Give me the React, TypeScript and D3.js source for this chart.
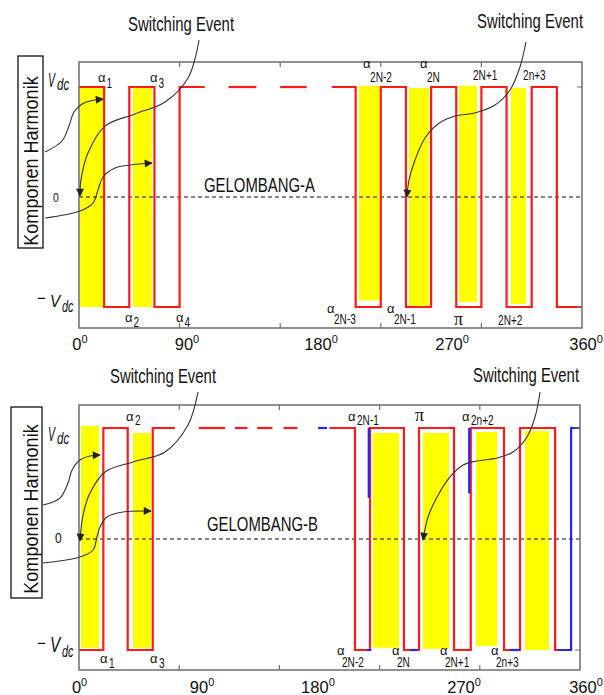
import React from 'react';
import * as d3 from 'd3';

// ---------- data (angles in degrees, levels in units of Vdc) ----------
const degreeTicks = [0, 90, 180, 270, 360];
const degreeTickAtA = [0.7, 77.3, 173.2, 267, 362.9];
const degreeTickAtB = [0.4, 88.4, 171.7, 276.7, 364.3];
const frameTicks = [72, 144, 216, 288];

// GELOMBANG-A: switching angles, starts at +Vdc
const edgesA = [18, 36, 54, 72, 198, 216, 234, 252, 270, 288, 306, 324, 342];
const startLevelA = 1;
const endA = 360;
const dashesA = [[72, 90], [107, 127], [144, 163], [181, 198]];
// yellow bars: [from, to, top level, bottom level]
const barsA = [
  [0.7, 17.2, 0.99, -1],
  [38.6, 52.2, 1, -1],
  [200.4, 215.4, 1.01, -0.94],
  [236.2, 250.5, 0.99, -0.99],
  [272, 284.9, 1.01, -0.955],
  [309.2, 319.9, 0.99, -0.973],
];
const labelsA = [
  { sub: '1', at: 13.6, side: 'top', kind: 'inline' },
  { sub: '3', at: 50.8, side: 'top', kind: 'inline' },
  { sub: '2N-2', at: 203.3, side: 'top', kind: 'stacked' },
  { sub: '2N', at: 244, side: 'top', kind: 'stacked' },
  { sub: '2N+1', at: 282, side: 'top', kind: 'bare' },
  { sub: '2n+3', at: 317.8, side: 'top', kind: 'bare' },
  { sub: '2', at: 32.9, side: 'bottom', kind: 'inline' },
  { sub: '4', at: 69.4, side: 'bottom', kind: 'inline' },
  { sub: '2N-3', at: 177.5, side: 'bottom', kind: 'stacked' },
  { sub: '2N-1', at: 220.4, side: 'bottom', kind: 'stacked' },
  { sub: 'π', at: 268.4, side: 'bottom', kind: 'pi' },
  { sub: '2N+2', at: 299.9, side: 'bottom', kind: 'bare' },
];
const curvesA = [
  [[85.9, 1.427], [78, 1.082], [61.6, 0.864], [40.1, 0.755], [18.6, 0.645], [6.4, 0.4], [1.4, 0.155], [0.7, 0.009]],
  [[-24.3, 0.409], [-12.2, 0.509], [-7.2, 0.645], [-3.6, 0.773], [3.6, 0.855], [17.2, 0.891]],
  [[-24.3, -0.191], [0.7, -0.127], [10, -0.055], [13.6, 0.064], [17.2, 0.182], [25.8, 0.264], [36.5, 0.291], [52.2, 0.309]],
  [[319.9, 1.409], [315.6, 1.182], [308.5, 0.973], [297.7, 0.836], [283.4, 0.764], [269.1, 0.736], [256.9, 0.664], [247.6, 0.536], [240.5, 0.336], [236.2, 0.155], [234.7, 0]],
];

// GELOMBANG-B: starts at -Vdc
const edgesB = [17.5, 35, 53, 198.3, 209.1, 233.5, 244.3, 269.5, 281.5, 305.4, 316.9, 342.1, 353.6];
const startLevelB = -1;
const endB = 353.6;
const dashesB = [[53, 69], [86, 105], [112, 121], [128, 139], [147, 157], [180, 198.3]];
const barsB = [
  [1.4, 14.4, 1.02, -0.98],
  [38.8, 51.7, 0.955, -0.98],
  [211.3, 230, 0.955, -0.98],
  [247.2, 265.9, 0.955, -0.99],
  [285.3, 300.4, 0.964, -0.964],
  [320.5, 337.7, 0.973, -1],
];
const blueB = [
  [[171.7, 1], [178.2, 1]],
  [[208.2, 1], [208.2, 0.37]],
  [[207, -1], [210, -1]],
  [[237.9, -1], [243.6, -1]],
  [[280.4, 1], [280.4, 0.41]],
  [[309.7, -1], [316.9, -1]],
  [[344.2, -1], [353.6, -1], [353.6, 1], [360, 1]],
];
const labelsB = [
  { sub: '2', at: 33.8, side: 'top', kind: 'inline' },
  { sub: '2N-1', at: 193.3, side: 'top', kind: 'inline' },
  { sub: 'π', at: 241.4, side: 'top', kind: 'pi' },
  { sub: '2n+2', at: 275.2, side: 'top', kind: 'inline' },
  { sub: '1', at: 15.1, side: 'bottom', kind: 'inline' },
  { sub: '3', at: 51, side: 'bottom', kind: 'inline' },
  { sub: '2N-2', at: 185.4, side: 'bottom', kind: 'stacked' },
  { sub: '2N', at: 224.9, side: 'bottom', kind: 'stacked' },
  { sub: '2N+1', at: 259.4, side: 'bottom', kind: 'stacked' },
  { sub: '2n+3', at: 296, side: 'bottom', kind: 'stacked' },
];
const curvesB = [
  [[85.5, 1.324], [78.3, 1.027], [61.8, 0.784], [38.8, 0.694], [18.7, 0.604], [7.9, 0.414], [2.9, 0.216], [0.7, -0.018]],
  [[-25.9, 0.306], [-13.7, 0.369], [-7.9, 0.505], [-5, 0.622], [0.7, 0.712], [7.9, 0.748], [15.1, 0.757]],
  [[-25.9, -0.216], [0.7, -0.162], [10.1, -0.099], [12.9, 0.018], [15.1, 0.108], [20.1, 0.198], [31.6, 0.243], [51.7, 0.252]],
  [[331.3, 1.324], [327.7, 1.099], [321.9, 0.919], [311.9, 0.784], [300.4, 0.73], [286, 0.703], [276, 0.667], [266.6, 0.559], [257.3, 0.378], [250.8, 0.198], [247.2, -0.009]],
];

// ---------- drawing ----------
const FONT = "'Liberation Sans', Arial, Helvetica, sans-serif";
const RED = '#ff1a1a';
const BLUE = '#2424ff';

// step waveform restricted to [from, to]
function stepPoints(edges: number[], start: number, from: number, to: number) {
  let level = start;
  edges.forEach(e => { if (e <= from) level = -level; });
  const pts: [number, number][] = [[from, level]];
  edges.forEach(e => {
    if (e > from && e < to) {
      pts.push([e, level]);
      level = -level;
      pts.push([e, level]);
    }
  });
  pts.push([to, level]);
  return pts;
}

const CText = ({ x, y, sx = 1, size, anchor = 'start', italic = false, family = FONT, children }: any) => (
  <text
    transform={`translate(${x},${y}) scale(${sx},1)`}
    fontSize={size}
    fontFamily={family}
    fontStyle={italic ? 'italic' : 'normal'}
    textAnchor={anchor}
    fill="#111"
  >
    {children}
  </text>
);

const Panel = ({ p }: any) => {
  const x = d3.scaleLinear().domain([0, 360]).range([p.left, p.right]);
  const y = d3.scaleLinear().domain([-1, 1]).range([p.yLo, p.yHi]);
  const line = d3.line<number[]>().x(d => x(d[0])).y(d => y(d[1]));
  const curve = d3.line<number[]>().x(d => x(d[0])).y(d => y(d[1])).curve(d3.curveCatmullRom.alpha(0.5));

  const d = p.dashes;
  const pieces = [[0, d[0][1]], ...d.slice(1, -1), [d[d.length - 1][0], p.end]];
  const L = p.layout;

  return (
    <g>
      {p.bars.map((b: number[], i: number) => (
        <rect key={'b' + i} x={x(b[0])} y={y(b[2])} width={x(b[1]) - x(b[0])} height={y(b[3]) - y(b[2])} fill="#ffff00" />
      ))}
      <line x1={x(0)} x2={x(360)} y1={y(0)} y2={y(0)} stroke="#111" strokeWidth={1} strokeDasharray="4 3" />
      {pieces.map((pc: number[], i: number) => (
        <path key={'w' + i} d={line(stepPoints(p.edges, p.start, pc[0], pc[1])) || ''} fill="none" stroke={RED} strokeWidth={2.2} />
      ))}
      {p.blue.map((pts: number[][], i: number) => (
        <path key={'bl' + i} d={line(pts) || ''} fill="none" stroke={BLUE} strokeWidth={2.2} />
      ))}

      {/* frame */}
      <rect x={p.left} y={p.top} width={p.right - p.left} height={p.bottom - p.top} fill="none" stroke="#6e6e6e" strokeWidth={1.5} />
      {frameTicks.map(t => (
        <g key={'t' + t} stroke="#6e6e6e" strokeWidth={1.2}>
          <line x1={x(t)} x2={x(t)} y1={p.top} y2={p.top + 5} />
          <line x1={x(t)} x2={x(t)} y1={p.bottom} y2={p.bottom - 5} />
        </g>
      ))}
      <line x1={p.right - 5} x2={p.right} y1={y(1)} y2={y(1)} stroke="#6e6e6e" />
      <line x1={p.right - 5} x2={p.right} y1={y(-1)} y2={y(-1)} stroke="#6e6e6e" />

      {/* switching event arrows */}
      {p.curves.map((c: number[][], i: number) => (
        <path key={'c' + i} d={curve(c) || ''} fill="none" stroke="#333" strokeWidth={1.1} markerEnd="url(#arrowhead)" />
      ))}

      {/* alpha labels */}
      {p.labels.map((l: any, i: number) => {
        const base = l.side === 'top' ? y(1) : y(-1);
        const o = L.off[l.side];
        const x0 = x(l.at);
        if (l.kind === 'pi') {
          return <CText key={'l' + i} x={x0} y={base + o.pi} size={18} family="'Liberation Serif', 'Times New Roman', serif">π</CText>;
        }
        if (l.kind === 'bare') {
          return <CText key={'l' + i} x={x0} y={base + o.bare} size={14} sx={0.72}>{l.sub}</CText>;
        }
        const pair = l.kind === 'inline' ? o.inline : o.stacked;
        const dx = l.kind === 'inline' ? L.inlineDx : L.stackDx;
        return (
          <g key={'l' + i}>
            <CText x={x0} y={base + pair[0]} size={13}>α</CText>
            <CText x={x0 + dx} y={base + pair[1]} size={14} sx={0.72}>{l.sub}</CText>
          </g>
        );
      })}

      {/* degree labels */}
      {degreeTicks.map((t, i) => (
        <text key={'dg' + t} x={x(p.degAt[i])} y={L.tickY} fontSize={16.5} fontFamily={FONT} textAnchor="middle" fill="#111">
          {t}
          <tspan fontSize={11} dy={-7}>0</tspan>
        </text>
      ))}

      {/* texts */}
      <CText x={L.title[0]} y={L.title[1]} size={21} sx={0.71}>{p.title}</CText>
      {L.events.map((e: number[], i: number) => (
        <CText key={'e' + i} x={e[0]} y={e[1]} size={21} sx={0.71} anchor="middle">Switching Event</CText>
      ))}
      <rect x={L.box[0]} y={L.box[1]} width={L.box[2]} height={L.box[3]} fill="none" stroke="#111" strokeWidth={1.3} />
      <text
        transform={`translate(${L.boxText[0]},${L.boxText[1]}) rotate(-90) scale(0.88,1)`}
        fontSize={20.5}
        fontFamily={FONT}
        textAnchor="middle"
        fill="#111"
      >
        Komponen Harmonik
      </text>
      <CText x={L.vdc[0]} y={L.vdc[1]} size={21} sx={0.5} italic>V</CText>
      <CText x={L.vdc[0] + 9} y={L.vdc[1] + 3} size={16} sx={0.72} italic>dc</CText>
      <CText x={L.zero[0]} y={L.zero[1]} size={L.zero[2]} sx={0.8}>0</CText>
      <CText x={37} y={L.neg[1] - 3} size={17} sx={0.9}>−</CText>
      <CText x={L.neg[0]} y={L.neg[1]} size={L.neg[2]} sx={L.neg[3]} italic>V</CText>
      <CText x={L.neg[0] + 12} y={L.neg[1] + 5} size={16} sx={0.68} italic>dc</CText>
    </g>
  );
};

const panelA = {
  title: 'GELOMBANG-A',
  left: 79, right: 582, top: 62, bottom: 328, yHi: 87, yLo: 307,
  edges: edgesA, start: startLevelA, end: endA, dashes: dashesA,
  bars: barsA, labels: labelsA, curves: curvesA, blue: [], degAt: degreeTickAtA,
  layout: {
    title: [204, 192],
    events: [[181, 31], [530, 28]],
    box: [18, 56, 25, 192],
    boxText: [37.5, 161],
    vdc: [48, 87],
    zero: [53, 202, 13],
    neg: [50, 307, 17, 0.9],
    tickY: 350,
    inlineDx: 8.5,
    stackDx: 7,
    off: {
      top: { inline: [-5, 1], stacked: [-19, -5], bare: -7, pi: -7 },
      bottom: { inline: [15, 20], stacked: [6, 17], bare: 18, pi: 18 },
    },
  },
};

const panelB = {
  title: 'GELOMBANG-B',
  left: 79, right: 580, top: 405, bottom: 670, yHi: 428, yLo: 650,
  edges: edgesB, start: startLevelB, end: endB, dashes: dashesB,
  bars: barsB, labels: labelsB, curves: curvesB, blue: blueB, degAt: degreeTickAtB,
  layout: {
    title: [207, 531],
    events: [[163, 383], [526, 382]],
    box: [11, 407, 31, 191],
    boxText: [37.5, 509],
    vdc: [48, 441],
    zero: [55, 543, 15],
    neg: [50, 652, 22, 0.7],
    tickY: 693,
    inlineDx: 9,
    stackDx: 5,
    off: {
      top: { inline: [-7, -3], stacked: [-19, -5], bare: -7, pi: -7 },
      bottom: { inline: [13, 18], stacked: [5, 17], bare: 17, pi: 17 },
    },
  },
};

export default function App() {
  return (
    <svg width={604} height={695} style={{ position: 'absolute', left: 0, top: 0, background: '#fff' }}>
      <defs>
        <marker id="arrowhead" viewBox="0 0 10 10" refX={9} refY={5} markerWidth={10} markerHeight={8} markerUnits="userSpaceOnUse" orient="auto">
          <path d="M0,0 L10,5 L0,10 z" fill="#222" />
        </marker>
      </defs>
      <rect width={604} height={695} fill="#fff" />
      <Panel p={panelA} />
      <Panel p={panelB} />
    </svg>
  );
}
